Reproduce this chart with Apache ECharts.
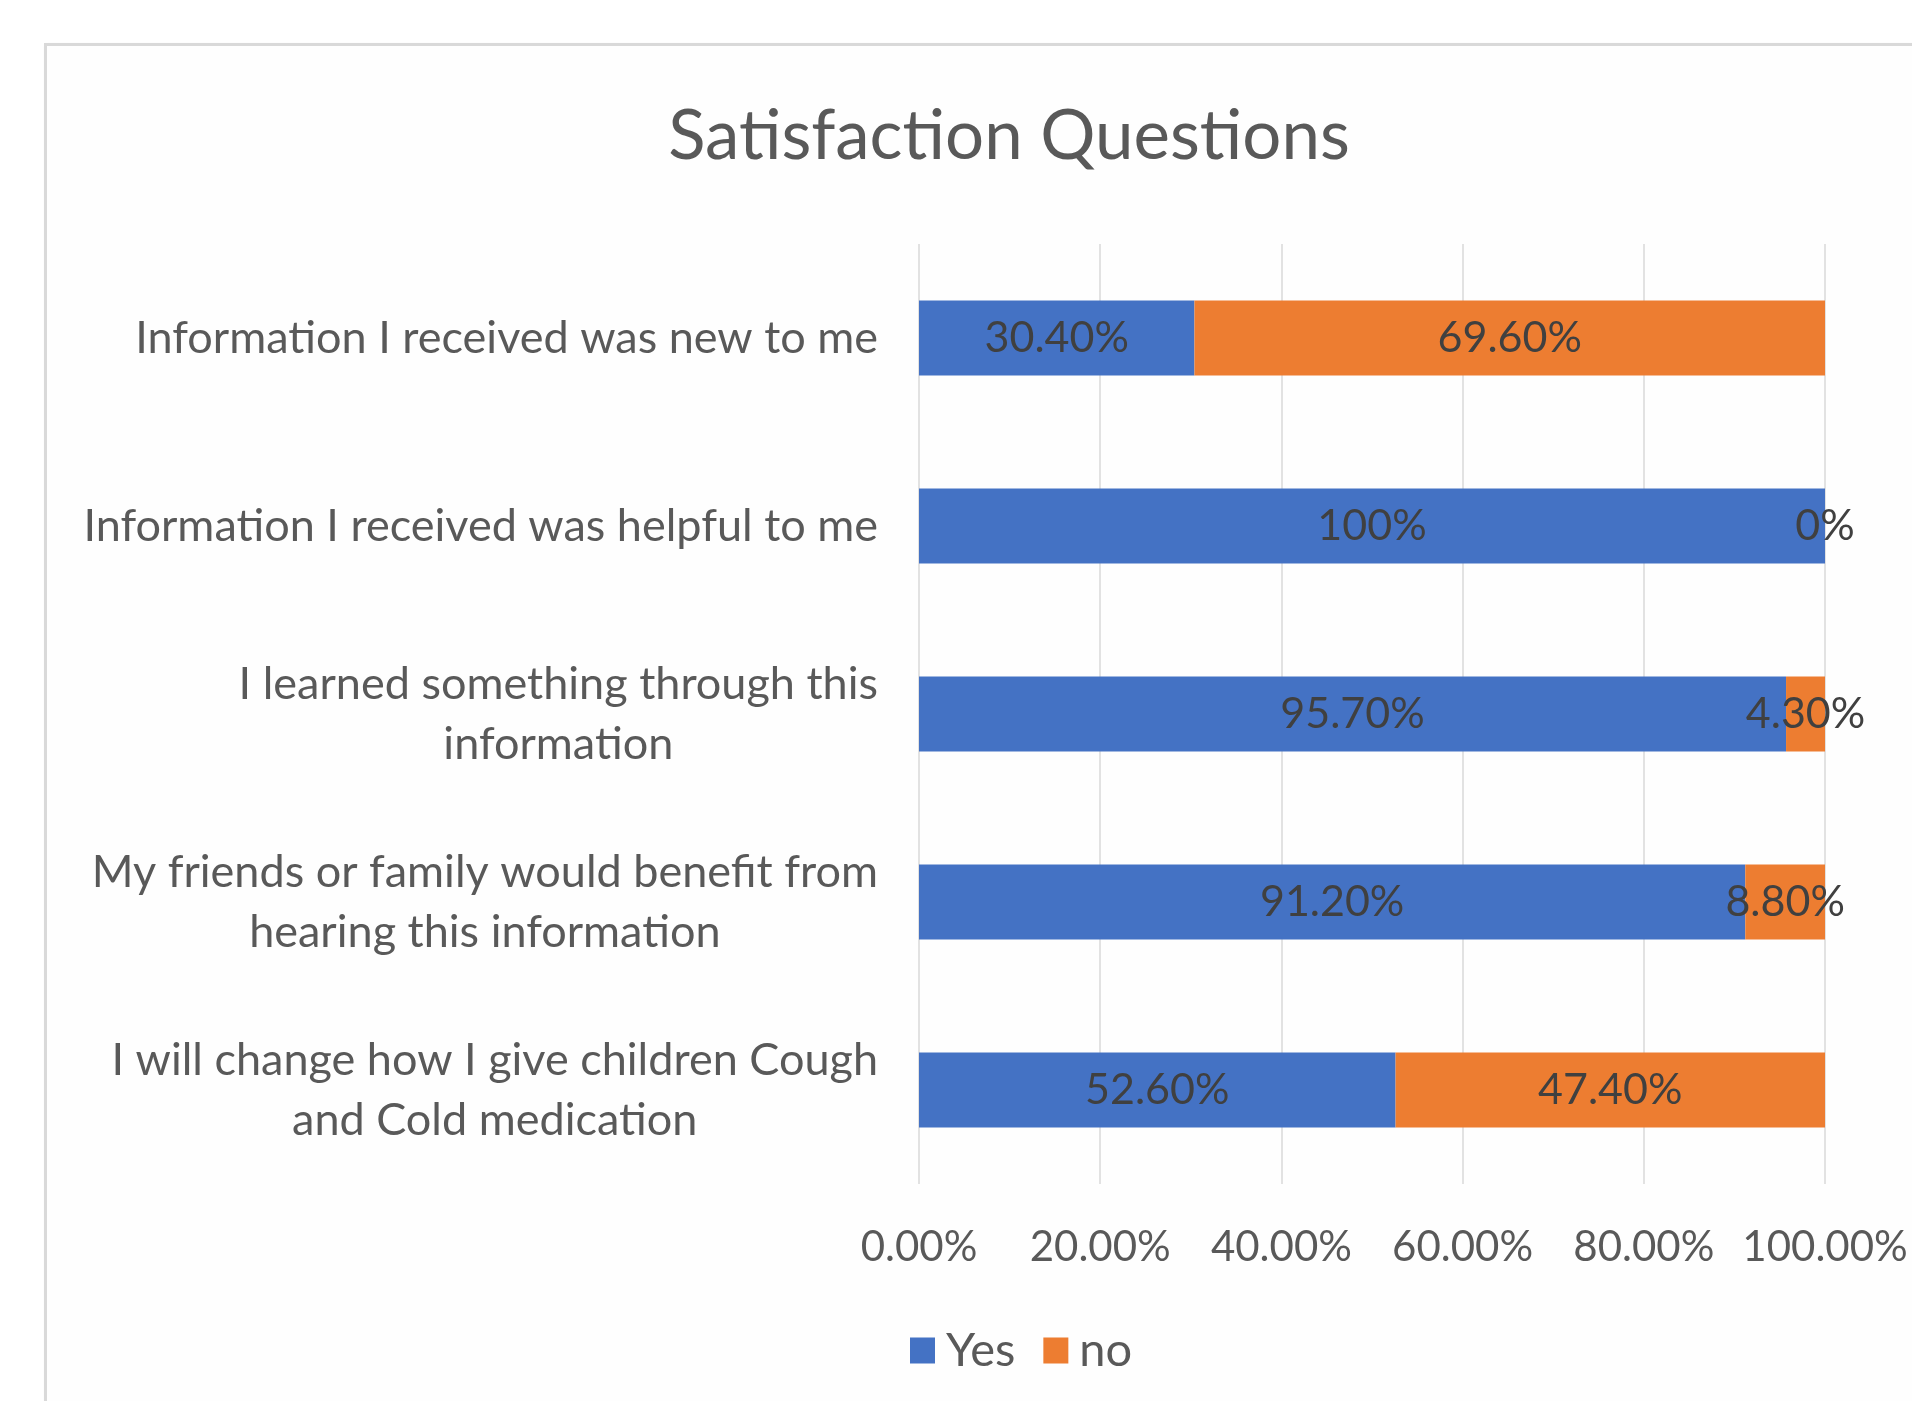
<!DOCTYPE html>
<html>
<head>
<meta charset="utf-8">
<script src="https://cdn.jsdelivr.net/npm/echarts@6/dist/echarts.min.js"></script>
<style>
  html, body { margin: 0; padding: 0; background: #ffffff; }
  #frame { position: absolute; left: 44px; top: 43px; width: 2000px; height: 1500px;
    border: 3px solid #d9d9d9; box-shadow: 2px 2px 4px rgba(0,0,0,0.08); background: #fefefe; box-sizing: border-box; }
  #chart { position: absolute; left: 0; top: 0; width: 1912px; height: 1401px; }
</style>
</head>
<body>
<div id="frame"></div>
<div id="chart"></div>
<script>
const titleText = 'Satisfaction Questions';
const categories = [
  'Information I received was new to me',
  'Information I received was helpful to me',
  'I learned something through this\ninformation',
  'My friends or family would benefit from\nhearing this information',
  'I will change how I give children Cough\nand Cold medication'
];
const seriesNames = ['Yes', 'no'];
const yesValues = [30.4, 100, 95.7, 91.2, 52.6];
const noValues = [69.6, 0, 4.3, 8.8, 47.4];
const xTicks = [0, 20, 40, 60, 80, 100];

const FONT = 'Lato';
const chart = echarts.init(document.getElementById('chart'));

function pct(v) {
  return Number.isInteger(v) ? v + '%' : v.toFixed(2) + '%';
}

const labelStyle = {
  show: true,
  position: 'inside',
  formatter: p => pct(p.value),
  color: '#404040',
  fontFamily: FONT,
  fontSize: 43
};

chart.setOption({
  animation: false,
  title: {
    text: titleText,
    left: 1004,
    textAlign: 'center',
    top: 97,
    textStyle: { fontFamily: FONT, fontSize: 69, fontWeight: 'normal', color: '#595959' }
  },
  legend: {
    data: seriesNames,
    left: 905,
    top: 1322,
    icon: 'rect',
    itemWidth: 25,
    itemHeight: 26,
    itemGap: 28,
    textStyle: { fontFamily: FONT, fontSize: 47, color: '#595959', padding: [0, 0, 0, 6] }
  },
  grid: { left: 919, right: 87, top: 244, bottom: 217, containLabel: false },
  xAxis: {
    type: 'value',
    min: 0,
    max: 100,
    interval: 20,
    axisLine: { show: false },
    axisTick: { show: false },
    splitLine: { show: true, lineStyle: { color: '#d9d9d9', width: 1.5 } },
    axisLabel: {
      margin: 42,
      fontFamily: FONT,
      fontSize: 42,
      color: '#595959',
      formatter: v => xTicks.includes(v) ? v.toFixed(2) + '%' : ''
    }
  },
  yAxis: {
    type: 'category',
    inverse: true,
    data: categories,
    axisLine: { show: false },
    axisTick: { show: false },
    axisLabel: {
      margin: 41,
      align: 'right',
      fontFamily: FONT,
      fontSize: 45,
      color: '#595959',
      lineHeight: 60,
      formatter: v => v.split('\n').map(s => '{c|' + s + '}').join('\n'),
      rich: { c: { align: 'center', fontFamily: FONT, fontSize: 45, color: '#595959', lineHeight: 60 } }
    }
  },
  series: [
    {
      name: seriesNames[0], type: 'bar', stack: 'total', barWidth: '40%',
      itemStyle: { color: '#4472c4' }, label: labelStyle, data: yesValues
    },
    {
      name: seriesNames[1], type: 'bar', stack: 'total', barWidth: '40%',
      itemStyle: { color: '#ed7d31' }, label: labelStyle, data: noValues
    }
  ]
});
</script>
</body>
</html>
